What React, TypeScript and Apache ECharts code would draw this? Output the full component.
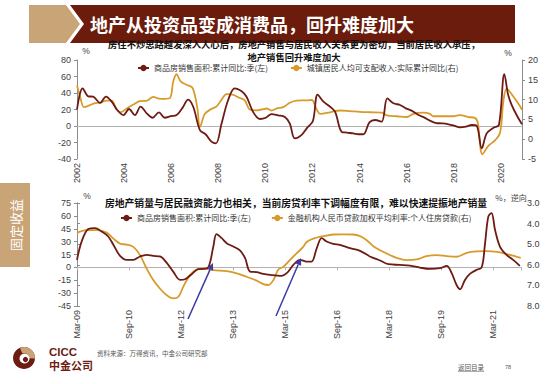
import { useEffect, useRef } from 'react';
import * as echarts from 'echarts';

// ---------- Top chart data ----------
const topTickLabels = ['2002', '2004', '2006', '2008', '2010', '2012', '2014', '2016', '2018', '2020'];
const salesYears = [
  2002.0, 2002.24, 2002.48, 2002.69, 2002.98, 2003.23, 2003.47, 2003.71, 2003.97, 2004.21,
  2004.46, 2004.7, 2004.96, 2005.21, 2005.48, 2005.73, 2005.99, 2006.23, 2006.48, 2006.72,
  2006.94, 2007.22, 2007.46, 2007.71, 2007.9, 2008.14, 2008.42, 2008.7, 2008.99, 2009.2,
  2009.48, 2009.77, 2010.02, 2010.26, 2010.54, 2010.83, 2011.04, 2011.25, 2011.53, 2011.78,
  2012.02, 2012.22, 2012.47, 2012.75, 2012.96, 2013.24, 2013.46, 2013.74, 2013.95, 2014.16,
  2014.42, 2014.66, 2014.94, 2015.18, 2015.44, 2015.72, 2015.97, 2016.21, 2016.5, 2016.74,
  2016.99, 2017.25, 2017.49, 2017.74, 2018.01, 2018.27, 2018.52, 2018.76, 2018.97, 2019.19,
  2019.4, 2019.69, 2019.92, 2020.15, 2020.31, 2020.46, 2020.67, 2020.9,
];
const salesTop = [
  20, 45.7, 36, 35.5, 28, 35.5, 29.5, 19.4, 13.3, 20.6,
  13.3, 23.4, 15.4, 10, 16.6, 10, 12, 13.3, 22, 32,
  23, -5, -10, -19, -21, 3, 31.5, 45.7, 42, 35.5,
  17, 8.5, 10, 14.5, 13, 11, 3, -15, -11, -2,
  6, 38, 29.5, 23.4, 17.4, -7, -8, -9, -10, -10,
  4.4, 7.3, 5.3, 33.5, 27.5, 25.5, 21.4, 18.6, 13.3, 10.5,
  6.5, 3.6, 3.2, 2.4, 0.4, -1.6, -0.8, 1.2, 0.4, -27,
  -9, -2, 1.2, 63, 38, 25.5, 13.3, 2,
];
const incomeYears = [
  2002.0, 2002.13, 2002.3, 2002.55, 2002.76, 2002.98, 2003.26, 2003.47, 2003.68, 2003.85,
  2004.11, 2004.39, 2004.67, 2004.98, 2005.24, 2005.48, 2005.73, 2005.95, 2006.09, 2006.23,
  2006.4, 2006.65, 2006.91, 2007.11, 2007.22, 2007.43, 2007.67, 2007.93, 2008.14, 2008.35,
  2008.61, 2008.92, 2009.13, 2009.34, 2009.62, 2009.84, 2010.05, 2010.26, 2010.47, 2010.76,
  2011.04, 2011.32, 2011.75, 2011.97, 2012.18, 2012.33, 2012.75, 2013.17, 2013.6, 2014.02,
  2014.45, 2014.94, 2015.16, 2015.58, 2016.0, 2016.29, 2016.71, 2016.99, 2017.13, 2017.56,
  2017.98, 2018.27, 2018.62, 2018.9, 2019.02, 2019.22, 2019.47, 2019.76, 2019.97, 2020.11,
  2020.25, 2020.53, 2020.82, 2020.9,
];
const incomeTop = [
  13.6, 10.8, 8.1, 8.6, 9.1, 9.2, 9.75, 9.75, 7.5, 6.8,
  7.75, 8.75, 9.6, 9.75, 10.7, 10.25, 10.2, 10.4, 14.6, 16.4,
  14.6, 13.75, 12.9, 7.9, 3.1, 6.4, 7.5, 8.3, 10, 11.4,
  11.25, 10.4, 9.75, 7.5, 7.3, 7.5, 7.75, 7.25, 7.75, 8.1,
  9.2, 9.75, 9.8, 9.9, 7.5, 6.4, 6.8, 7.25, 7.1, 6.9,
  6.8, 6.7, 6.0, 5.8, 5.6, 6.4, 6.7, 6.4, 5.8, 5.8,
  5.8, 6.1, 5.6, 5.4, 4.2, -3.8, -1.7, -0.25, 1.7, 9.6,
  12.75, 10.8, 8.3, 7.4,
];

// ---------- Bottom chart data (x = months since Mar-09) ----------
const bottomTickLabels = ['Mar-09', 'Sep-10', 'Mar-12', 'Sep-13', 'Mar-15', 'Sep-16', 'Mar-18', 'Sep-19', 'Mar-21'];
const salesMonths = [
  0, 1.6, 3.9, 6.2, 8.5, 10.8, 12.6, 14.9, 17.2, 19.5,
  21.8, 24.1, 26.4, 28.7, 31, 33.3, 35.7, 37.4, 39.7, 42,
  43.7, 45.5, 47.2, 48.3, 50.1, 51.8, 54.1, 56.4, 58.2, 59.9,
  62.2, 64.5, 66.8, 69.1, 70.8, 72.6, 74.9, 77.2, 79.5, 81.2,
  83, 84.7, 86.4, 88.7, 91, 94.5, 98, 101.4, 104.9, 107.8,
  111.8, 115.3, 118.7, 122.2, 125.6, 128, 129.7, 131.4, 132.6, 134.3,
  136, 138.3, 140.1, 141.2, 142.4, 143.5, 144.7, 146.4, 148.7, 151,
  153.3,
];
const salesBottom = [
  8.8, 30, 44.6, 45.8, 41.9, 36, 26.3, 13.4, 8.8, 8.8,
  12.7, 14.6, 13.4, 12.7, 5.6, -4.9, -14.6, -13.8, -8, -2.1,
  -1.8, 0.2, 24.3, 38.8, 34, 28.2, 24.3, 19.7, 10.7, -4.9,
  -5.6, -7.6, -8.8, -9.5, -9.9, -6.8, 2.9, 8.8, 6.8, 6.8,
  22.4, 34, 30.2, 27.5, 26.3, 22.4, 19.3, 12.7, 8, 3.7,
  2.9, 2.1, -0.2, -1.8, -1, 1.8, -6.8, -20.5, -25.5, -14.6,
  -7.6, -2.9, 0.2, 26.3, 59.4, 63.3, 43.8, 24.3, 14.6, 8.8,
  1.8,
];
const rateMonths = [
  0, 3.3, 6.8, 10.3, 12.6, 14.9, 17.2, 19.5, 21.8, 24.1,
  26.4, 28.7, 31, 33.3, 35.1, 36.8, 39.1, 41.4, 43.7, 47.2,
  51.8, 55.3, 58.7, 62.2, 64.5, 66.2, 68, 69.7, 71.4, 73.7,
  76, 78.3, 79.5, 81.8, 85.3, 88.7, 92.2, 95.6, 98, 100.3,
  102.6, 104.9, 107.2, 110.6, 114.1, 117.6, 121, 124.5, 128, 131.4,
  134.9, 138.3, 141.8, 145.3, 148.7, 152.2, 153.6,
];
const rateBottom = [
  4.45, 4.32, 4.32, 4.44, 4.73, 4.97, 5.02, 5.13, 5.53, 6.18,
  6.74, 7.15, 7.47, 7.63, 7.55, 7.06, 6.5, 6.23, 6.18, 6.26,
  6.31, 6.42, 6.58, 6.77, 6.94, 6.98, 6.74, 6.23, 6.1, 5.77,
  5.45, 5.13, 4.89, 4.73, 4.61, 4.53, 4.52, 4.53, 4.61, 4.81,
  5.1, 5.29, 5.45, 5.66, 5.77, 5.74, 5.58, 5.53, 5.58, 5.61,
  5.42, 5.35, 5.34, 5.37, 5.48, 5.61, 5.66,
];

const nameSales = '商品房销售面积:累计同比:季(左)';
const nameIncome = '城镇居民人均可支配收入:实际累计同比(右)';
const nameRate = '金融机构人民币贷款加权平均利率:个人住房贷款(右)';

const CJK = '"Noto Sans CJK SC", "Noto Sans", sans-serif';
const NUM = '"Liberation Sans", Arial, sans-serif';
const DARK = '#6e1b14';
const ORANGE = '#d89a2a';
const TAN = '#c9a477';
const AXIS = '#8c8c8c';
const LABEL = '#404040';

const zip = (xs: number[], ys: number[]) => xs.map((x, i) => [x, ys[i]]);

function arrow(x1: number, y1: number, x2: number, y2: number) {
  const c = '#3b3ba8';
  const dx = x2 - x1, dy = y2 - y1;
  const L = Math.hypot(dx, dy);
  const ux = dx / L, uy = dy / L;
  const hl = 7, hw = 3.2;
  const bx = x2 - ux * hl, by = y2 - uy * hl;
  return [
    { type: 'line', shape: { x1, y1, x2: bx, y2: by }, style: { stroke: c, lineWidth: 1.5 }, z: 100 },
    {
      type: 'polygon',
      shape: { points: [[x2, y2], [bx - uy * hw, by + ux * hw], [bx + uy * hw, by - ux * hw]] },
      style: { fill: c },
      z: 100,
    },
  ];
}

function txt(x: number, y: number, text: string, fontSize: number, fill: string, opts: any = {}) {
  return {
    type: 'text',
    x,
    y,
    rotation: opts.rotation || 0,
    z: 100,
    style: {
      text,
      fill,
      fontSize,
      lineHeight: opts.lineHeight || Math.round(fontSize * 1.15),
      fontFamily: opts.fontFamily || CJK,
      fontWeight: opts.bold ? 'bold' : 'normal',
      align: opts.align || 'left',
      textAlign: opts.align || 'left',
      verticalAlign: 'middle',
      textVerticalAlign: 'middle',
    },
  };
}

export default function App() {
  const ref = useRef<HTMLDivElement>(null);
  useEffect(() => {
    if (!ref.current) return;
    const chart = echarts.init(ref.current, undefined, { renderer: 'svg' });

    const yCommon = {
      splitLine: { show: false },
      axisLine: { show: true, lineStyle: { color: AXIS, width: 1 } },
      axisTick: { show: true, length: 3, lineStyle: { color: AXIS } },
      axisLabel: { color: LABEL, fontSize: 9, fontFamily: NUM, margin: 6 },
    };

    const option: any = {
      animation: false,
      backgroundColor: '#ffffff',
      grid: [
        { left: 77, right: 28, top: 60, height: 99 },
        { left: 77, right: 29, top: 203, height: 103 },
      ],
      xAxis: [
        {
          gridIndex: 0,
          type: 'value',
          min: 2002,
          max: 2020.9,
          interval: 2,
          position: 'bottom',
          axisLine: { show: false, onZero: false },
          axisTick: { show: false },
          splitLine: { show: false },
          axisLabel: {
            rotate: 90,
            margin: 4,
            color: LABEL,
            fontSize: 9,
            fontFamily: NUM,
            showMaxLabel: false,
            formatter: (v: number) => {
              const i = Math.round((v - 2002) / 2);
              return Math.abs(v - (2002 + 2 * i)) < 1e-6 ? topTickLabels[i] || '' : '';
            },
          },
        },
        {
          gridIndex: 0,
          type: 'value',
          min: 2002,
          max: 2020.9,
          interval: 2,
          position: 'bottom',
          axisLine: { show: true, onZero: true, onZeroAxisIndex: 0, lineStyle: { color: '#b3b3b3', width: 1 } },
          axisTick: { show: false },
          axisLabel: { show: false },
          splitLine: { show: false },
        },
        {
          gridIndex: 1,
          type: 'value',
          min: 0,
          max: 153.7,
          interval: 18,
          position: 'bottom',
          axisLine: { show: false, onZero: false },
          axisTick: { show: false },
          splitLine: { show: false },
          axisLabel: {
            rotate: 90,
            margin: 4,
            color: LABEL,
            fontSize: 9,
            fontFamily: NUM,
            showMaxLabel: false,
            formatter: (v: number) => {
              const i = Math.round(v / 18);
              return Math.abs(v - 18 * i) < 1e-6 ? bottomTickLabels[i] || '' : '';
            },
          },
        },
        {
          gridIndex: 1,
          type: 'value',
          min: 0,
          max: 153.7,
          interval: 18,
          position: 'bottom',
          axisLine: { show: true, onZero: true, onZeroAxisIndex: 2, lineStyle: { color: '#b3b3b3', width: 1 } },
          axisTick: { show: true, length: 3, lineStyle: { color: '#b3b3b3' } },
          axisLabel: { show: false },
          splitLine: { show: false },
        },
      ],
      yAxis: [
        { gridIndex: 0, type: 'value', position: 'left', min: -40, max: 80, interval: 20, ...yCommon },
        { gridIndex: 0, type: 'value', position: 'right', min: -5, max: 20, interval: 5, ...yCommon },
        { gridIndex: 1, type: 'value', position: 'left', min: -45, max: 75, interval: 15, ...yCommon },
        {
          gridIndex: 1,
          type: 'value',
          position: 'right',
          min: 3,
          max: 8,
          interval: 1,
          inverse: true,
          ...yCommon,
          axisLabel: { ...yCommon.axisLabel, formatter: (v: number) => v.toFixed(1) },
        },
      ],
      legend: [
        {
          data: [nameSales, nameIncome],
          left: 137,
          top: 64,
          itemWidth: 11,
          itemHeight: 8,
          itemGap: 22,
          padding: 0,
          textStyle: { fontSize: 8, color: '#333', fontFamily: CJK },
        },
        {
          data: [nameSales, nameRate],
          left: 120,
          top: 214,
          itemWidth: 11,
          itemHeight: 8,
          itemGap: 20,
          padding: 0,
          textStyle: { fontSize: 8, color: '#333', fontFamily: CJK },
        },
      ],
      series: [
        {
          name: nameSales,
          type: 'line',
          xAxisIndex: 0,
          yAxisIndex: 0,
          data: zip(salesYears, salesTop),
          symbol: 'none',
          smooth: 0.35,
          lineStyle: { color: DARK, width: 1.8 },
          itemStyle: { color: DARK },
          z: 3,
        },
        {
          name: nameIncome,
          type: 'line',
          xAxisIndex: 0,
          yAxisIndex: 1,
          data: zip(incomeYears, incomeTop),
          symbol: 'none',
          smooth: 0.35,
          lineStyle: { color: ORANGE, width: 1.8 },
          itemStyle: { color: ORANGE },
          z: 2,
        },
        {
          name: nameSales,
          type: 'line',
          xAxisIndex: 2,
          yAxisIndex: 2,
          data: zip(salesMonths, salesBottom),
          symbol: 'none',
          smooth: 0.35,
          lineStyle: { color: DARK, width: 1.8 },
          itemStyle: { color: DARK },
          z: 3,
        },
        {
          name: nameRate,
          type: 'line',
          xAxisIndex: 2,
          yAxisIndex: 3,
          data: zip(rateMonths, rateBottom),
          symbol: 'none',
          smooth: 0.35,
          lineStyle: { color: ORANGE, width: 1.8 },
          itemStyle: { color: ORANGE },
          z: 2,
        },
      ],
      graphic: [
        // header
        { type: 'polygon', shape: { points: [[29, 5], [66, 5], [80, 24], [66, 43], [29, 43]] }, style: { fill: TAN } },
        { type: 'polygon', shape: { points: [[70, 5], [515, 5], [515, 43], [70, 43], [84, 24]] }, style: { fill: '#6b1c0c' } },
        txt(90, 23.5, '地产从投资品变成消费品，回升难度加大', 18, '#ffffff', { bold: true, lineHeight: 18 }),
        // side tab
        { type: 'rect', shape: { x: 0, y: 183, width: 30, height: 84 }, style: { fill: TAN } },
        txt(15, 225, '固定收益', 13, '#ffffff', { align: 'center', rotation: Math.PI / 2 }),
        // top chart captions
        txt(294, 43.5, '房住不炒思路越发深入人心后，房地产销售与居民收入关系更为密切，当前居民收入承压，', 9.3, '#111', { bold: true, align: 'center', lineHeight: 11 }),
        txt(294, 57, '地产销售回升难度加大', 9.3, '#111', { bold: true, align: 'center', lineHeight: 11 }),
        txt(86, 51, '%', 8.5, LABEL, { align: 'center', fontFamily: NUM }),
        txt(508, 53, '%', 8.5, LABEL, { align: 'center', fontFamily: NUM }),
        // bottom chart captions
        txt(296, 203, '房地产销量与居民融资能力也相关，当前房贷利率下调幅度有限，难以快速提振地产销量', 9.8, '#111', { bold: true, align: 'center' }),
        txt(87, 196, '%', 8.5, LABEL, { align: 'center', fontFamily: NUM }),
        txt(511, 197, '%，逆向', 8, LABEL, { align: 'center' }),
        // arrows
        ...arrow(188, 319, 213, 263),
        ...arrow(276, 316, 301, 258),
        // logo
        { type: 'circle', shape: { cx: 24, cy: 358, r: 11 }, style: { fill: DARK } },
        { type: 'sector', shape: { cx: 24, cy: 358, r: 11, r0: 5, startAngle: -Math.PI * 0.62, endAngle: 0.05 }, style: { fill: TAN } },
        { type: 'circle', shape: { cx: 24.5, cy: 358.5, r: 5 }, style: { fill: '#ffffff' } },
        { type: 'circle', shape: { cx: 25.5, cy: 359.5, r: 2.6 }, style: { fill: DARK } },
        txt(49, 351.5, 'CICC', 11.5, DARK, { bold: true, fontFamily: NUM, lineHeight: 12 }),
        txt(49, 365, '中金公司', 11, DARK, { bold: true, lineHeight: 12 }),
        // footer
        txt(97, 353, '资料来源：万得资讯，中金公司研究部', 6.5, '#555'),
        txt(458, 367, '返回目录', 6.5, '#555'),
        { type: 'line', shape: { x1: 458, y1: 371.5, x2: 484, y2: 371.5 }, style: { stroke: '#777', lineWidth: 0.6 } },
        txt(505, 367, '78', 5.5, '#555', { fontFamily: NUM }),
      ],
    };

    chart.setOption(option);
    return () => chart.dispose();
  }, []);

  return <div ref={ref} style={{ width: 550, height: 384, position: 'absolute', left: 0, top: 0 }} />;
}
